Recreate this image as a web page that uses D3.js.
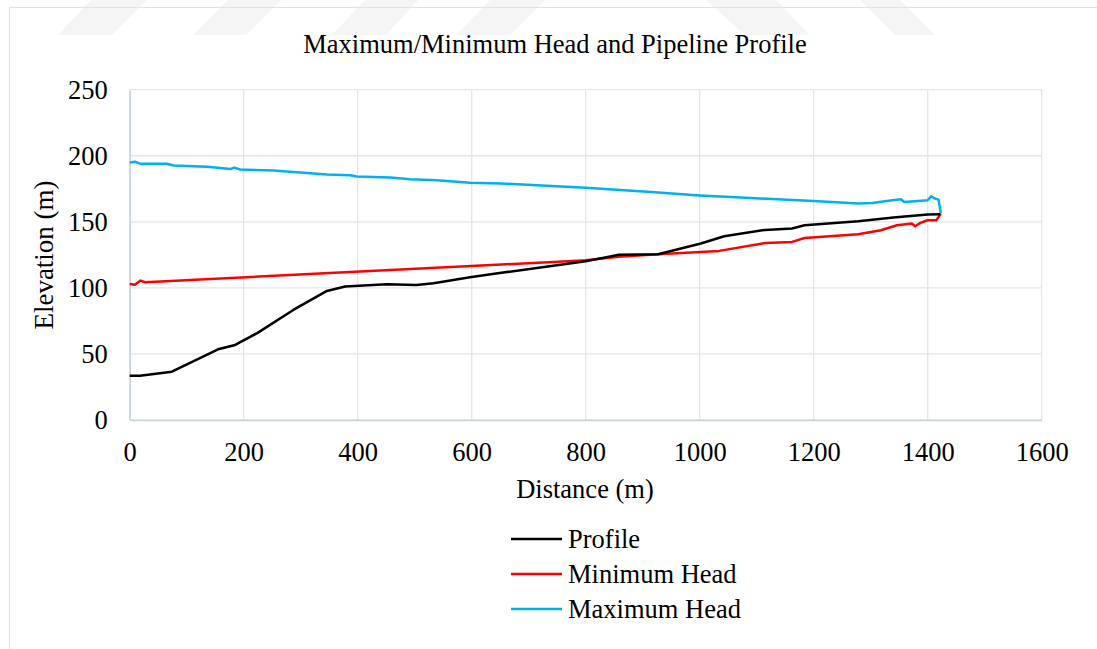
<!DOCTYPE html>
<html>
<head>
<meta charset="utf-8">
<script src="https://cdn.jsdelivr.net/npm/d3@7/dist/d3.min.js"></script>
<style>
html,body{margin:0;padding:0;background:#fff;}
svg{display:block;}
text{font-family:"Liberation Serif","Times New Roman",serif;fill:#000;}
</style>
</head>
<body>
<svg id="chart" width="1097" height="649"></svg>
<script>
// ---- Data ----
const chartTitle = "Maximum/Minimum Head and Pipeline Profile";
const xTicks = [0, 200, 400, 600, 800, 1000, 1200, 1400, 1600];
const yTicks = [0, 50, 100, 150, 200, 250];
const seriesNames = ["Profile", "Minimum Head", "Maximum Head"];
const seriesColors = ["#000000", "#ff0000", "#00b0f0"];

const profileDist = [0, 18, 74, 155, 185, 223, 287, 346, 378, 451, 503, 533, 597, 652, 800, 858, 927, 1002, 1043, 1115, 1162, 1184, 1278, 1340, 1400, 1422];
const profileElev = [33.5, 33.5, 36.6, 53.5, 56.8, 65.6, 83.3, 97.7, 101, 102.7, 102.2, 103.5, 108, 111.4, 120.2, 125, 125.5, 133.6, 139.1, 143.9, 144.9, 147.4, 150.4, 153.2, 155.5, 155.7];

const minDist = [0, 9, 19, 27, 652, 752, 800, 858, 927, 1034, 1115, 1162, 1184, 1278, 1318, 1346, 1372, 1378, 1387, 1400, 1415, 1419, 1423];
const minHead = [103, 102.3, 105.5, 104.3, 117.7, 119.7, 121, 123.5, 125.5, 128, 134, 134.8, 137.8, 140.6, 143.6, 147.4, 148.7, 146.7, 149.2, 151.2, 151.2, 153.7, 156.2];

const maxDist = [0, 9, 18, 65, 77, 136, 177, 183, 194, 252, 299, 346, 387, 398, 457, 492, 539, 597, 652, 800, 915, 1000, 1090, 1200, 1278, 1303, 1328, 1353, 1359, 1400, 1406, 1413, 1419, 1423];
const maxHead = [194.8, 195.5, 194, 194, 192.6, 191.6, 190, 191, 189.6, 188.8, 187.3, 185.8, 185.3, 184.3, 183.5, 182.2, 181.5, 179.5, 179, 175.7, 172.6, 170, 168, 165.7, 163.8, 164.3, 165.8, 167.1, 165, 166.3, 169.3, 167.6, 166.8, 156.5];

// ---- Layout ----
const svg = d3.select("#chart");
const W = 1097, H = 649;
const plot = {left: 129.7, right: 1041.7, top: 89.7, bottom: 420};

// watermark stripes (faint)
const stripes = [
  [[91,0],[147,0],[112,35],[58,35]],
  [[228,0],[281,0],[246,35],[193,35]],
  [[365,0],[418,0],[386,35],[332,35]],
  [[490,0],[545,0],[510,35],[456,35]],
  [[706,0],[776,0],[810,35],[745,35]],
  [[860,0],[900,0],[935,35],[895,35]]
];
svg.append("g").selectAll("polygon").data(stripes).join("polygon")
  .attr("points", d => d.map(p => p.join(",")).join(" "))
  .attr("fill", "#f5f5f5");

// chart border
svg.append("rect").attr("x", 9.5).attr("y", 7.5).attr("width", W).attr("height", H)
  .attr("fill", "none").attr("stroke", "#e3e3e3").attr("stroke-width", 1);

const x = d3.scaleLinear().domain([0, 1600]).range([plot.left, plot.right]);
const y = d3.scaleLinear().domain([0, 250]).range([plot.bottom, plot.top]);

// gridlines
const grid = svg.append("g");
grid.selectAll("line.v").data(xTicks).join("line")
  .attr("x1", d => x(d)).attr("x2", d => x(d))
  .attr("y1", plot.top).attr("y2", plot.bottom)
  .attr("stroke", "#e2e5ec").attr("stroke-width", 1.3);
grid.selectAll("line.h").data(yTicks).join("line")
  .attr("x1", plot.left).attr("x2", plot.right)
  .attr("y1", d => y(d)).attr("y2", d => y(d))
  .attr("stroke", "#e2e5ec").attr("stroke-width", 1.3);

// axes via d3
const fmt = d3.format("d");
const xAxis = svg.append("g").attr("transform", `translate(0,${plot.bottom})`)
  .call(d3.axisBottom(x).tickValues(xTicks).tickFormat(fmt).tickSize(0).tickPadding(22));
const yAxis = svg.append("g").attr("transform", `translate(${plot.left},0)`)
  .call(d3.axisLeft(y).tickValues(yTicks).tickFormat(fmt).tickSize(0).tickPadding(22));
[xAxis, yAxis].forEach(a => {
  a.select(".domain").attr("stroke", "#cbd3e0").attr("stroke-width", 1.5);
  a.selectAll("text").style("font-family", "'Liberation Serif', serif").style("font-size", "26.5px").attr("fill", "#000");
});

// lines
const line = d3.line().x(d => x(d[0])).y(d => y(d[1]));
const series = [
  d3.zip(profileDist, profileElev),
  d3.zip(minDist, minHead),
  d3.zip(maxDist, maxHead)
];
const drawOrder = [2, 1, 0];
drawOrder.forEach(i => {
  svg.append("path").datum(series[i])
    .attr("d", line)
    .attr("fill", "none")
    .attr("stroke", seriesColors[i])
    .attr("stroke-width", 2.5)
    .attr("stroke-linejoin", "round");
});

// title
svg.append("text").attr("x", 555).attr("y", 53)
  .attr("text-anchor", "middle").style("font-size", "26.5px").text(chartTitle);

// axis titles
svg.append("text").attr("x", 585).attr("y", 498)
  .attr("text-anchor", "middle").style("font-size", "26.5px").text("Distance (m)");
svg.append("text").attr("transform", "translate(53,255) rotate(-90)")
  .attr("text-anchor", "middle").style("font-size", "27px").text("Elevation (m)");

// legend
const legend = svg.append("g");
const legY = [539, 574, 609];
seriesNames.forEach((n, i) => {
  legend.append("line").attr("x1", 511).attr("x2", 562)
    .attr("y1", legY[i]).attr("y2", legY[i])
    .attr("stroke", seriesColors[i]).attr("stroke-width", 2.5);
  legend.append("text").attr("x", 568).attr("y", legY[i] + 9)
    .style("font-size", "26.5px").text(n);
});
</script>
</body>
</html>
